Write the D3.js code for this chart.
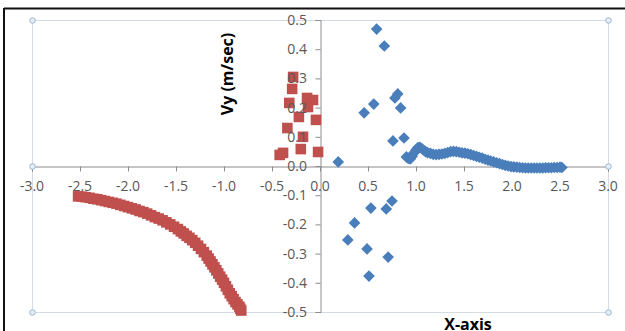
<!DOCTYPE html>
<html>
<head>
<meta charset="utf-8">
<script src="https://cdn.jsdelivr.net/npm/d3@7"></script>
<style>
  html, body { margin: 0; padding: 0; background: #fff; }
  svg { display: block; }
</style>
</head>
<body>
<svg id="chart" width="625" height="331"></svg>
<script>
// ---- data ----
const xTicks = [-3.0, -2.5, -2.0, -1.5, -1.0, -0.5, 0.0, 0.5, 1.0, 1.5, 2.0, 2.5, 3.0];
const yTicks = [-0.5, -0.4, -0.3, -0.2, -0.1, 0.0, 0.1, 0.2, 0.3, 0.4, 0.5];
const xTitle = "X-axis";
const yTitle = "Vy (m/sec)";

// blue diamonds
const blueX = [0.19, 0.46, 0.56, 0.59, 0.67, 0.78, 0.81, 0.84, 0.76, 0.875,
  0.53, 0.75, 0.69, 0.36, 0.29, 0.49, 0.71, 0.51,
  0.90, 0.92, 0.94, 0.96, 0.98, 1.00, 1.02, 1.04, 1.06, 1.08, 1.10, 1.12, 1.15, 1.18, 1.21, 1.24,
  1.27, 1.30, 1.33, 1.36, 1.39, 1.42, 1.45, 1.48, 1.51, 1.54, 1.57, 1.60, 1.63, 1.66, 1.69, 1.72,
  1.75, 1.78, 1.81, 1.84, 1.87, 1.90, 1.93, 1.96, 1.99, 2.02, 2.05, 2.08, 2.11, 2.14, 2.17, 2.20,
  2.23, 2.26, 2.29, 2.32, 2.35, 2.38, 2.41, 2.44, 2.47, 2.50, 2.52];
const blueY = [0.014, 0.182, 0.212, 0.469, 0.411, 0.233, 0.247, 0.199, 0.086, 0.096,
  -0.144, -0.120, -0.147, -0.195, -0.253, -0.284, -0.312, -0.377,
  0.031, 0.026, 0.024, 0.033, 0.045, 0.055, 0.063, 0.064, 0.060, 0.054, 0.049, 0.046, 0.043, 0.040, 0.039, 0.040,
  0.041, 0.043, 0.046, 0.049, 0.050, 0.049, 0.047, 0.045, 0.044, 0.042, 0.039, 0.036, 0.033, 0.030, 0.027, 0.023,
  0.020, 0.017, 0.014, 0.011, 0.008, 0.005, 0.002, 0.000, -0.002, -0.003, -0.004, -0.005, -0.006, -0.007, -0.007, -0.007,
  -0.007, -0.007, -0.007, -0.007, -0.006, -0.006, -0.006, -0.005, -0.005, -0.004, -0.005];

// red squares
const redX = [-0.28, -0.29, -0.32, -0.135, -0.073, -0.125, -0.22, -0.042, -0.34, -0.177, -0.42, -0.385, -0.20, -0.02,
  -2.52, -2.48, -2.44, -2.40, -2.36, -2.32, -2.28, -2.24, -2.20, -2.16, -2.12, -2.08, -2.04, -2.00,
  -1.96, -1.92, -1.88, -1.84, -1.80, -1.76, -1.72, -1.68, -1.64, -1.60, -1.56, -1.52, -1.48, -1.45,
  -1.42, -1.39, -1.36, -1.33, -1.30, -1.27, -1.24, -1.21, -1.18, -1.16, -1.14, -1.12, -1.10, -1.08,
  -1.06, -1.04, -1.02, -1.00, -0.98, -0.96, -0.94, -0.92, -0.90, -0.88, -0.86, -0.84, -0.83, -0.82];
const redY = [0.305, 0.264, 0.216, 0.233, 0.226, 0.202, 0.168, 0.158, 0.130, 0.100, 0.038, 0.045, 0.058, 0.048,
  -0.104, -0.105, -0.107, -0.109, -0.112, -0.114, -0.117, -0.120, -0.123, -0.126, -0.129, -0.133, -0.137, -0.141,
  -0.145, -0.149, -0.154, -0.158, -0.163, -0.169, -0.175, -0.180, -0.186, -0.193, -0.200, -0.208, -0.216, -0.224,
  -0.231, -0.239, -0.246, -0.254, -0.263, -0.273, -0.284, -0.295, -0.307, -0.317, -0.327, -0.337, -0.347, -0.357,
  -0.368, -0.379, -0.389, -0.400, -0.412, -0.424, -0.436, -0.446, -0.456, -0.466, -0.474, -0.482, -0.489, -0.495];

// ---- drawing ----
const svg = d3.select("#chart");
const font = "'Open Sans', 'Liberation Sans', sans-serif";
const L = 32, R = 608, T = 20, B = 312;

const x = d3.scaleLinear().domain([-3, 3]).range([L, R]);
const y = d3.scaleLinear().domain([-0.5, 0.5]).range([B, T]);

// outer frame (partial, as in the reference)
svg.append("line").attr("x1", 4).attr("x2", 625).attr("y1", 8.5).attr("y2", 8.5)
  .attr("stroke", "#111").attr("stroke-width", 2);
svg.append("line").attr("x1", 4).attr("x2", 4).attr("y1", 8).attr("y2", 331)
  .attr("stroke", "#111").attr("stroke-width", 2);

// plot-area selection border
svg.append("rect").attr("x", L + 0.5).attr("y", T + 0.5).attr("width", R - L).attr("height", B - T)
  .attr("fill", "none").attr("stroke", "#d4dbe2").attr("stroke-width", 1);

// axes lines
const xAxis = d3.axisBottom(x).tickValues(xTicks).tickSize(5).tickFormat("");
const yAxis = d3.axisLeft(y).tickValues(yTicks).tickSize(5).tickFormat("");
const gx = svg.append("g").attr("transform", `translate(0,${y(0) + 0.5})`).call(xAxis);
const gy = svg.append("g").attr("transform", `translate(${x(0) + 0.5},0)`).call(yAxis);
[gx, gy].forEach(g => {
  g.select(".domain").attr("stroke", "#8c8c8c");
  g.selectAll(".tick line").attr("stroke", "#8c8c8c");
});

// markers
const blue = blueX.map((v, i) => ({ x: v, y: blueY[i] }));
const red = redX.map((v, i) => ({ x: v, y: redY[i] }));

svg.append("g").selectAll("path").data(red).join("path")
  .attr("transform", d => `translate(${x(d.x)},${y(d.y)})`)
  .attr("d", d3.symbol(d3.symbolSquare, 112))
  .attr("fill", "#c0504d");

svg.append("g").selectAll("path").data(blue).join("path")
  .attr("transform", d => `translate(${x(d.x)},${y(d.y)}) rotate(45)`)
  .attr("d", d3.symbol(d3.symbolSquare, 68))
  .attr("fill", "#4a7ebb");

// tick labels (on top)
svg.append("g").selectAll("text").data(xTicks).join("text")
  .attr("x", d => x(d)).attr("y", 191)
  .attr("text-anchor", "middle")
  .attr("font-family", font).attr("font-size", 14).attr("fill", "#595959")
  .text(d => d3.format(".1f")(d).replace("−", "-"));

svg.append("g").selectAll("text").data(yTicks).join("text")
  .attr("x", 307).attr("y", d => y(d)).attr("dy", "0.36em")
  .attr("text-anchor", "end")
  .attr("font-family", font).attr("font-size", 14).attr("fill", "#595959")
  .text(d => d3.format(".1f")(d).replace("−", "-"));

// titles
svg.append("text").attr("transform", "translate(233,74) rotate(-90)")
  .attr("text-anchor", "middle").attr("font-family", font).attr("font-weight", "bold")
  .attr("font-size", 16).attr("fill", "#000").text(yTitle);
svg.append("text").attr("x", 468).attr("y", 330)
  .attr("text-anchor", "middle").attr("font-family", font).attr("font-weight", "bold")
  .attr("font-size", 16).attr("fill", "#000").text(xTitle);

// selection handles
[[L, T], [R, T], [L, B], [R, B], [L, (T + B) / 2], [R, (T + B) / 2]].forEach(([hx, hy]) => {
  svg.append("circle").attr("cx", hx + 0.5).attr("cy", hy + 0.5).attr("r", 2.8)
    .attr("fill", "#e3eef8").attr("stroke", "#9fb6cc").attr("stroke-width", 1);
});
</script>
</body>
</html>
